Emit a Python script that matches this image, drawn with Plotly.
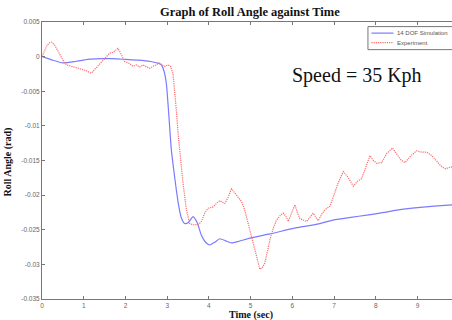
import plotly.graph_objects as go

# ---- data ----
sim_t = [0, 0.25, 0.5, 0.8, 1.1, 1.4, 1.7, 2.0, 2.3, 2.6, 2.8, 2.86, 2.92, 2.98, 3.04, 3.1, 3.16,
         3.22, 3.28, 3.34, 3.42, 3.5, 3.62, 3.72, 3.82, 3.92, 4.02, 4.14, 4.26, 4.4, 4.54, 4.7,
         4.98, 5.46, 6.1, 6.6, 6.97, 7.4, 7.78, 8.2, 8.58, 9.0, 9.4, 9.83]
sim_y = [0.0, -0.0005, -0.0009, -0.0007, -0.0004, -0.0003, -0.0003, -0.0004, -0.0005, -0.0007,
         -0.0010, -0.0012, -0.0020, -0.0039, -0.0085, -0.0135, -0.0165, -0.0193, -0.0217, -0.0233,
         -0.0241, -0.0240, -0.0231, -0.0240, -0.0258, -0.0268, -0.0272, -0.0268, -0.0263, -0.0266,
         -0.0269, -0.0267, -0.0262, -0.0256, -0.0247, -0.0242, -0.0236, -0.0232, -0.0229, -0.0225,
         -0.0221, -0.0218, -0.0216, -0.0214]

exp_t = [0, 0.06, 0.12, 0.18, 0.23, 0.3, 0.38, 0.47, 0.53, 0.59, 0.7, 0.82, 0.95, 1.05, 1.18,
         1.3, 1.42, 1.54, 1.62, 1.7, 1.82, 1.9, 1.98, 2.1, 2.18, 2.26, 2.34, 2.42, 2.5, 2.58,
         2.66, 2.74, 2.8, 2.86, 2.94, 3.02, 3.08, 3.14, 3.18, 3.22, 3.26, 3.32, 3.38, 3.46,
         3.54, 3.62, 3.70, 3.76, 3.82, 3.9, 3.98, 4.1, 4.18, 4.26, 4.38, 4.46, 4.54, 4.66,
         4.78, 4.86, 4.94, 5.02, 5.1, 5.16, 5.22, 5.28, 5.34, 5.40, 5.46, 5.54, 5.62, 5.70,
         5.78, 5.84, 5.90, 5.98, 6.06, 6.12, 6.18, 6.26, 6.34, 6.42, 6.5, 6.56, 6.62, 6.7,
         6.78, 6.9, 7.0, 7.1, 7.22, 7.34, 7.46, 7.56, 7.66, 7.76, 7.86, 7.94, 8.02, 8.14,
         8.26, 8.40, 8.50, 8.60, 8.70, 8.84, 8.98, 9.1, 9.22, 9.34, 9.46, 9.56, 9.66, 9.75, 9.83]
exp_y = [0.0, 0.0008, 0.0016, 0.0020, 0.0021, 0.0017, 0.0008, -0.0002, -0.0008, -0.0012,
         -0.0014, -0.0016, -0.0019, -0.0020, -0.0024, -0.0016, -0.0008, 0.0, 0.0005, 0.0006,
         0.0012, 0.0003, -0.0007, -0.0010, -0.0014, -0.0012, -0.0015, -0.0012, -0.0014, -0.0017,
         -0.0014, -0.0012, -0.0009, -0.0011, -0.0014, -0.0012, -0.0014, -0.0025, -0.0048, -0.0078,
         -0.0110, -0.0148, -0.0183, -0.0221, -0.0241, -0.0243, -0.0243, -0.0242, -0.0238, -0.0226,
         -0.0219, -0.0217, -0.0212, -0.0208, -0.0212, -0.0203, -0.0191, -0.0200, -0.0209, -0.0222,
         -0.0241, -0.0262, -0.0282, -0.0297, -0.0307, -0.0305, -0.0298, -0.0282, -0.0265, -0.0248,
         -0.0236, -0.0230, -0.0226, -0.0230, -0.0238, -0.0226, -0.0214, -0.0225, -0.0234, -0.0236,
         -0.0238, -0.0232, -0.0226, -0.0232, -0.0237, -0.0228, -0.0221, -0.0216, -0.0200, -0.0182,
         -0.0166, -0.0175, -0.0187, -0.0180, -0.0176, -0.0160, -0.0143, -0.0150, -0.0154, -0.0153,
         -0.0140, -0.0132, -0.0140, -0.0149, -0.0153, -0.0143, -0.0136, -0.0138, -0.0138, -0.0143,
         -0.0151, -0.0158, -0.0162, -0.0160, -0.0159]

x_ticks = [0, 1, 2, 3, 4, 5, 6, 7, 8, 9]
y_ticks = [0.005, 0, -0.005, -0.01, -0.015, -0.02, -0.025, -0.03, -0.035]
y_tick_labels = ["0.005", "0", "-0.005", "-0.01", "-0.015", "-0.02", "-0.025", "-0.03", "-0.035"]
series_names = ["14 DOF Simulation", "Experiment"]

# ---- layout helpers (pixel -> paper) ----
W, H = 452, 320
L, R, T, B = 42.3, 452.0, 22.4, 299.0
def px(x):
    return (x - L) / (R - L)
def py(y):
    return (B - y) / (B - T)

BLUE = "#7b7bff"
RED = "#ff6a6a"
RED_DASH = "1.2px,1px"
SERIF = "Liberation Serif, Times New Roman, serif"

fig = go.Figure()
fig.add_trace(go.Scatter(x=sim_t, y=sim_y, mode="lines", name=series_names[0],
                         line=dict(color=BLUE, width=1.2, shape="spline", smoothing=0.5)))
fig.add_trace(go.Scatter(x=exp_t, y=exp_y, mode="lines", name=series_names[1],
                         line=dict(color=RED, width=1.2, dash=RED_DASH)))

axis_common = dict(showgrid=False, zeroline=False, showline=True, linecolor="#777777",
                   linewidth=1, ticks="inside", ticklen=3, tickcolor="#777777",
                   tickfont=dict(family="Liberation Sans Narrow, Arial Narrow, Liberation Sans, Arial",
                                 size=6.5, color="#666666"))

fig.update_layout(
    width=W, height=H,
    margin=dict(l=L, r=W - R, t=T, b=H - B),
    paper_bgcolor="white", plot_bgcolor="white",
    showlegend=False,
    xaxis=dict(range=[0, 9.825], tickvals=x_ticks, ticktext=[str(v) for v in x_ticks],
               mirror="ticks", **axis_common),
    yaxis=dict(range=[-0.035, 0.005], tickvals=y_ticks, ticktext=y_tick_labels,
               mirror=False, **axis_common),
)

annotations = [
    dict(text="<b>Graph of Roll Angle against Time</b>", x=px(250.5), y=py(12), xref="paper", yref="paper",
         showarrow=False, font=dict(family=SERIF, size=12.5, color="#111111"), xanchor="center", yanchor="middle"),
    dict(text="<b>Time (sec)</b>", x=px(251), y=py(315), xref="paper", yref="paper",
         showarrow=False, font=dict(family=SERIF, size=10, color="#111111"), xanchor="center", yanchor="middle"),
    dict(text="<b>Roll Angle (rad)</b>", x=px(8), y=py(162), xref="paper", yref="paper", textangle=-90,
         showarrow=False, font=dict(family=SERIF, size=10, color="#111111"), xanchor="center", yanchor="middle"),
    dict(text="Speed = 35 Kph", x=px(357), y=py(76), xref="paper", yref="paper",
         showarrow=False, font=dict(family=SERIF, size=20, color="#111111"), xanchor="center", yanchor="middle"),
    dict(text=series_names[0], x=px(395.5), y=py(33.5), xref="paper", yref="paper",
         showarrow=False, font=dict(family="Liberation Sans, Arial", size=6, color="#555555"),
         xanchor="left", yanchor="middle"),
    dict(text=series_names[1], x=px(395.5), y=py(43), xref="paper", yref="paper",
         showarrow=False, font=dict(family="Liberation Sans, Arial", size=6, color="#555555"),
         xanchor="left", yanchor="middle"),
]
shapes = [
    dict(type="rect", xref="paper", yref="paper", x0=px(368), x1=px(460), y0=py(50), y1=py(27),
         line=dict(color="#777777", width=1), fillcolor="white", layer="above"),
    dict(type="line", xref="paper", yref="paper", x0=px(371.5), x1=px(393.5), y0=py(33.5), y1=py(33.5),
         line=dict(color=BLUE, width=1.2)),
    dict(type="line", xref="paper", yref="paper", x0=px(371.5), x1=px(393.5), y0=py(43), y1=py(43),
         line=dict(color=RED, width=1.2, dash=RED_DASH)),
]
fig.update_layout(annotations=annotations, shapes=shapes)

fig.write_html("out.html")
